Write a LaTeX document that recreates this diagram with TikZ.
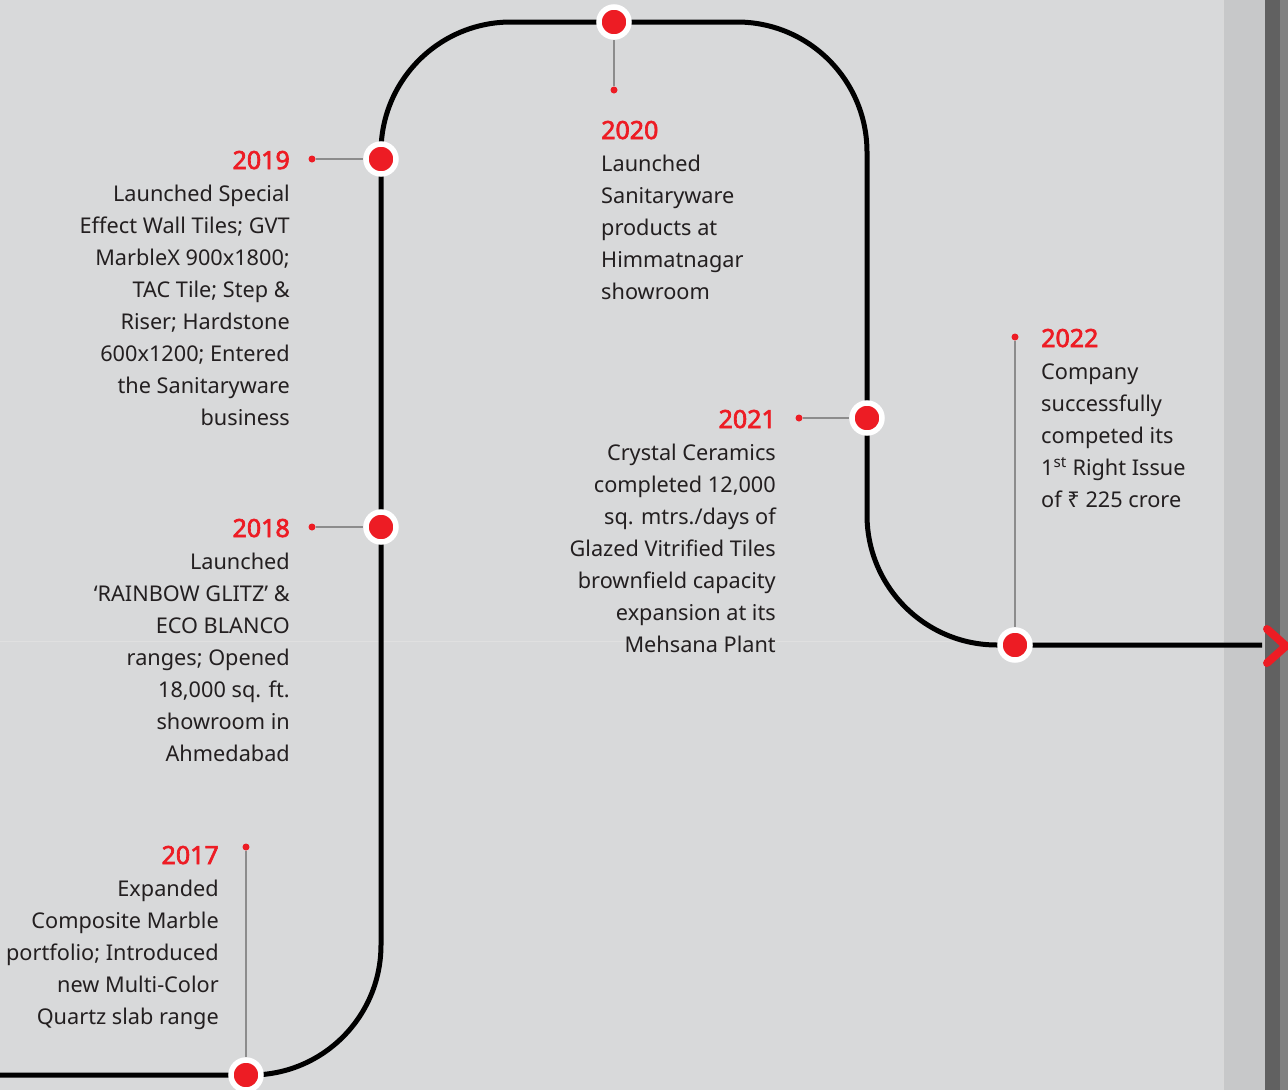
\documentclass[tikz,border=0pt]{standalone}
\usepackage{fontspec}
\setmainfont{Noto Sans}
\newfontfamily\yearfont{Noto Sans}[FakeBold=2.6]
\usetikzlibrary{positioning}

\definecolor{tlred}{HTML}{ED1C24}
\definecolor{tltext}{HTML}{231F20}
\definecolor{tlgray}{HTML}{8C8C8C}
\definecolor{wall}{HTML}{D8D9DA}

\tikzset{
  track/.style={line width=5pt, black, rounded corners=130pt},
  bigdot/.style={circle, fill=tlred, draw=white, line width=5.5pt, minimum size=30pt, inner sep=0pt},
  smalldot/.style={circle, fill=tlred, minimum size=7pt, inner sep=0pt},
  leader/.style={line width=1.4pt, tlgray},
  year/.style={font=\fontsize{25}{32}\yearfont, text=tlred, inner sep=0pt},
  body/.style={font=\fontsize{21.7}{32}\selectfont, text=tltext, inner sep=0pt},
}

\begin{document}
\begin{tikzpicture}[x=1pt, y=-1pt]
		\useasboundingbox (0,0) rectangle (1288,1090);
		\fill[wall] (0,0) rectangle (1288,1090);
		\fill[wall!92!black] (1223,0) rectangle (1265,1090);
		\fill[black!62] (1265,0) rectangle (1288,1090);
		\fill[black!50] (1280,0) rectangle (1288,1090);
		\draw[black!12, line width=1pt] (0,641) -- (1223,641);
		\draw[black!15, line width=1pt] (1223,0) -- (1223,1090);

		\coordinate (c17) at (246, 1075);
		\coordinate (c18) at (381, 527);
		\coordinate (c19) at (381, 159);
		\coordinate (c20) at (614, 22);
		\coordinate (c21) at (867, 418);
		\coordinate (c22) at (1015, 645);
		\coordinate (end) at (1262, 645);

		\draw[track] (0,1075) -- (381,1075) -- (381,22) -- (867,22) -- (867,645) -- (end);
		\draw[tlred, line width=8pt, line cap=round, line join=round] (1267,629) -- (1286,646) -- (1267,663);

		\node[bigdot] (d17) at (c17) {};
		\node[bigdot] (d18) at (c18) {};
		\node[bigdot] (d19) at (c19) {};
		\node[bigdot] (d20) at (c20) {};
		\node[bigdot] (d21) at (c21) {};
		\node[bigdot] (d22) at (c22) {};

		\node[smalldot] (s17) at (246, 847) {};
		\node[smalldot] (s18) at (312, 527) {};
		\node[smalldot] (s19) at (312, 159) {};
		\node[smalldot] (s20) at (614, 90) {};
		\node[smalldot] (s21) at (799, 418) {};
		\node[smalldot] (s22) at (1015, 337) {};

		\draw[leader] (s17) -- (d17);
		\draw[leader] (s18) -- (d18);
		\draw[leader] (s19) -- (d19);
		\draw[leader] (s20) -- (d20);
		\draw[leader] (s21) -- (d21);
		\draw[leader] (s22) -- (d22);

		% years and what happened (base anchor = last line)
		\node[year, anchor=base east] (y17) at (219, 864) {2017};
		\node[body, anchor=base east, align=right] (t17) at ([yshift=-160pt]y17.base east) {Expanded\\Composite Marble\\portfolio; Introduced\\new Multi-Color\\Quartz slab range};
		\node[year, anchor=base east] (y18) at (290, 537) {2018};
		\node[body, anchor=base east, align=right] (t18) at ([yshift=-224pt]y18.base east) {Launched\\‘RAINBOW GLITZ’ \&\\ECO BLANCO\\ranges; Opened\\18,000 sq. ft.\\showroom in\\Ahmedabad};
		\node[year, anchor=base east] (y19) at (290, 169) {2019};
		\node[body, anchor=base east, align=right] (t19) at ([yshift=-256pt]y19.base east) {Launched Special\\Effect Wall Tiles; GVT\\MarbleX 900x1800;\\TAC Tile; Step \&\\Riser; Hardstone\\600x1200; Entered\\the Sanitaryware\\business};
		\node[year, anchor=base west] (y20) at (601, 139) {2020};
		\node[body, anchor=base west, align=left] (t20) at ([yshift=-160pt]y20.base west) {Launched\\Sanitaryware\\products at\\Himmatnagar\\showroom};
		\node[year, anchor=base east] (y21) at (776, 428) {2021};
		\node[body, anchor=base east, align=right] (t21) at ([yshift=-224pt]y21.base east) {Crystal Ceramics\\completed 12,000\\sq. mtrs./days of\\Glazed Vitrified Tiles\\brownfield capacity\\expansion at its\\Mehsana Plant};
		\node[year, anchor=base west] (y22) at (1041, 347) {2022};
		\node[body, anchor=base west, align=left] (t22) at ([yshift=-160pt]y22.base west) {Company\\successfully\\competed its\\1\textsuperscript{st} Right Issue\\of ₹ 225 crore};
	\end{tikzpicture}
\end{document}
